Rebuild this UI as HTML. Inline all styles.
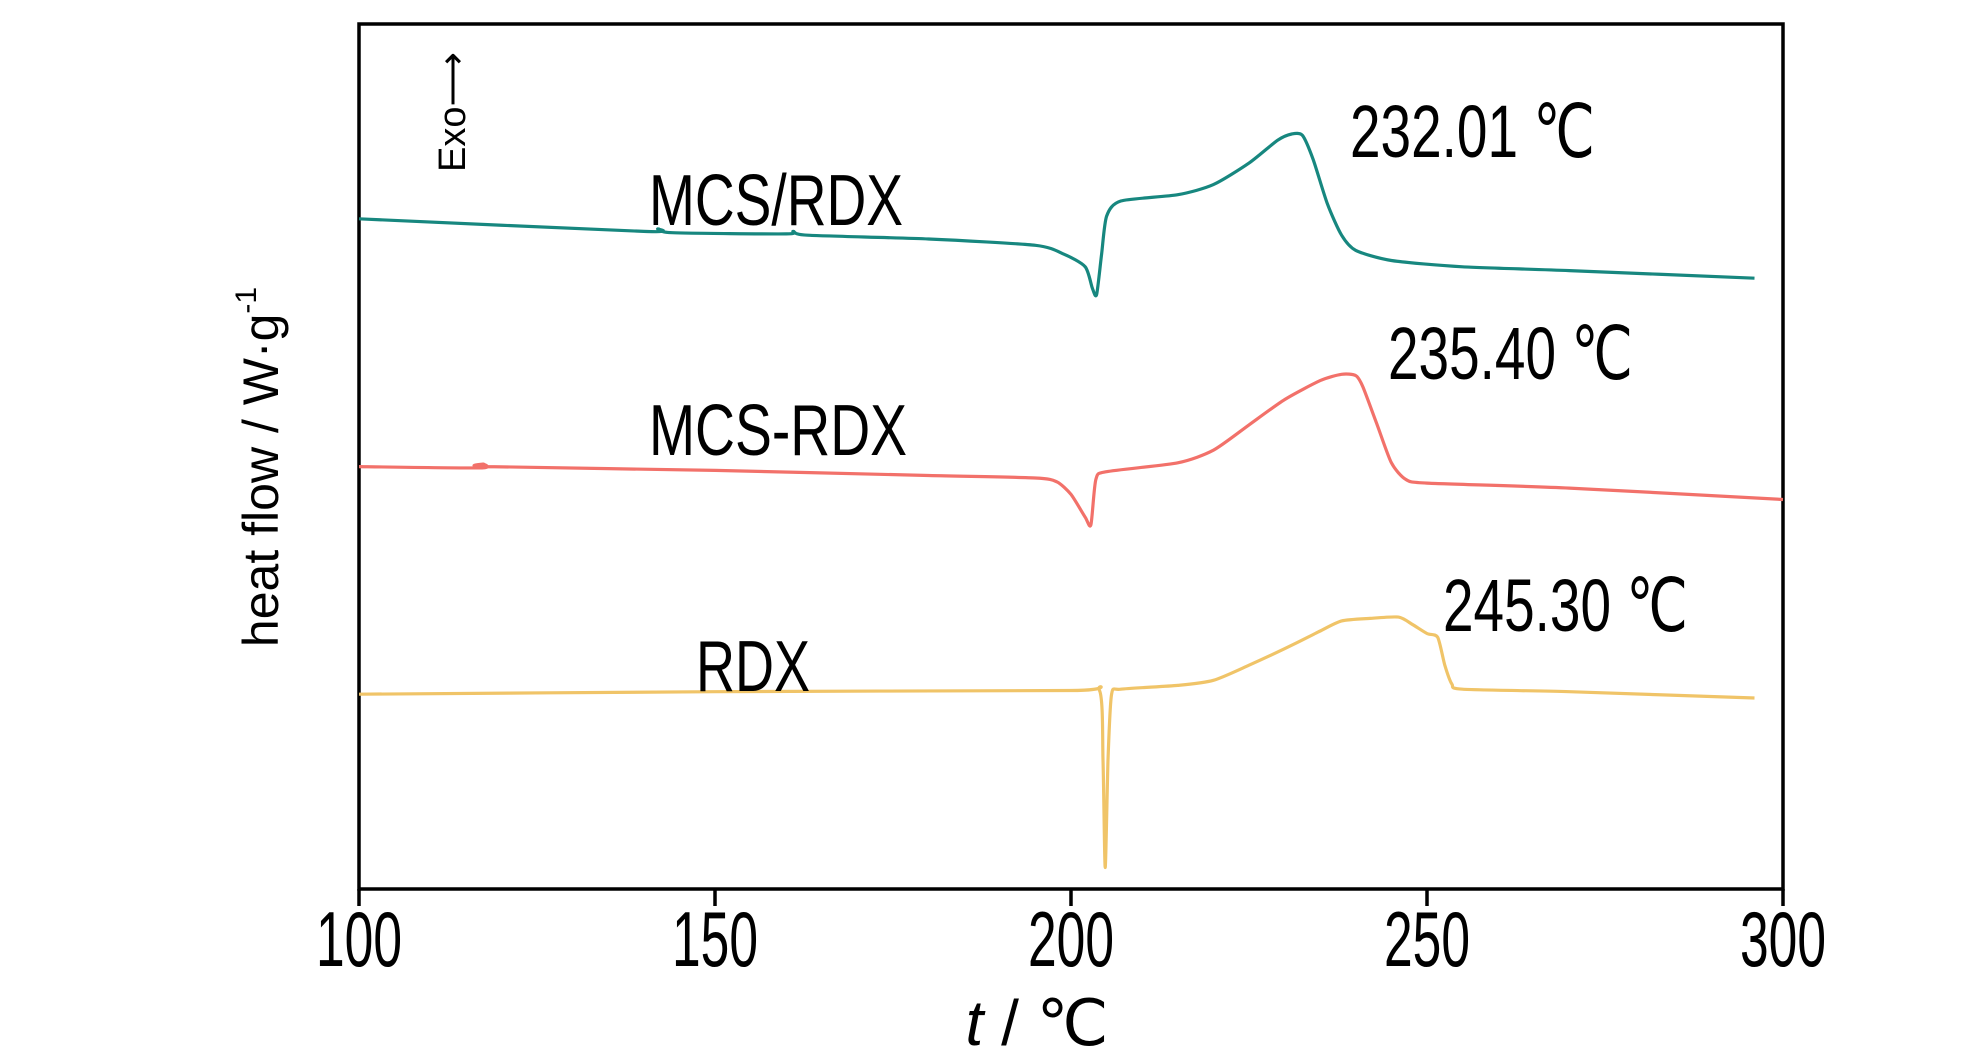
<!DOCTYPE html>
<html><head><meta charset="utf-8"><style>html,body{margin:0;padding:0;background:#fff}svg{display:block}text{font-family:"Liberation Sans",sans-serif;fill:#000}</style></head>
<body>
<svg id="chart" width="1984" height="1063" viewBox="0 0 1984 1063" xmlns="http://www.w3.org/2000/svg">
<rect x="359" y="24" width="1424" height="865" fill="none" stroke="#000" stroke-width="3.5"/>
<g id="ticks"></g>
<g id="series"></g>
<text x="1037" y="1045" font-size="64" text-anchor="middle"><tspan font-style="italic">t</tspan> /  ℃</text>
<text transform="translate(278,467) rotate(-90)" font-size="50" text-anchor="middle">heat flow / W·g<tspan font-size="30" dy="-22">-1</tspan></text>
<text transform="translate(465,172) rotate(-90)" font-size="38">Exo⟶</text>
<text x="649" y="225" font-size="72" textLength="254" lengthAdjust="spacingAndGlyphs">MCS/RDX</text>
<text x="649" y="455" font-size="72" textLength="258" lengthAdjust="spacingAndGlyphs">MCS-RDX</text>
<text x="696" y="691" font-size="72" textLength="114" lengthAdjust="spacingAndGlyphs">RDX</text>
<text x="1350" y="157" font-size="74" textLength="245" lengthAdjust="spacingAndGlyphs">232.01 ℃</text>
<text x="1388" y="379" font-size="74" textLength="245" lengthAdjust="spacingAndGlyphs">235.40 ℃</text>
<text x="1443" y="631" font-size="74" textLength="245" lengthAdjust="spacingAndGlyphs">245.30 ℃</text>
</svg>
<script>
const xTicks = [100, 150, 200, 250, 300];
const xTickLabels = ["100", "150", "200", "250", "300"];
const tempMcsSlash = [100,140,142,144,160,161,163,180,195,199,202,203,203.6,204.3,205,207,215,220,225,229,231,232.5,234,236,238,240,245,255,270,296];
const flowMcsSlash = [53,52,52.2,51.9,51.8,52,51.7,51.4,50.9,50.2,49.2,47.5,47,50.2,53.2,54.4,54.9,55.7,57.4,59.2,59.7,59.6,57.7,54.2,51.7,50.5,49.7,49.2,48.9,48.3];
const tempMcsDash = [100,117,117.5,118,150,180,195,198,200,202,202.8,203.5,205,215,220,225,230,235,238,240,241,243,245,247,250,270,300];
const flowMcsDash = [33.4,33.3,33.6,33.4,33.1,32.7,32.5,32.2,31.2,29.4,28.8,32.4,33,33.7,34.7,36.7,38.7,40.2,40.7,40.6,39.7,36.7,33.7,32.4,32.1,31.7,30.8];
const tempRdx = [100,150,200,204,204.5,204.8,205.2,205.7,207,215,220,225,230,234.3,235,238,242,246,248,250,251.5,252.5,253.5,255,270,296];
const flowRdx = [15.4,15.6,15.7,15.7,10.2,1.7,10.2,15.4,15.8,16.1,16.5,17.7,19,20.2,20.4,21.2,21.4,21.5,20.9,20.2,19.9,17.7,16.2,15.8,15.6,15.1];

const X0 = 359, X1 = 1783, Y0 = 889, Y1 = 24;
function xScale(t){ return X0 + (t - 100) / 200 * (X1 - X0); }
function yScale(v){ return Y0 - v / 68.4 * (Y0 - Y1); }
const NS = "http://www.w3.org/2000/svg";
const tg = document.getElementById('ticks');
xTicks.forEach((t, i) => {
  const x = xScale(t);
  const l = document.createElementNS(NS, 'line');
  
  
  l.setAttribute('x1', x); l.setAttribute('x2', x);
  l.setAttribute('y1', Y0); l.setAttribute('y2', Y0 + 17);
  l.setAttribute('stroke', '#000'); l.setAttribute('stroke-width', '3.5');
  tg.appendChild(l);
  const tx = document.createElementNS(NS, 'text');
  
  
  tx.setAttribute('x', x); tx.setAttribute('y', 966);
  tx.setAttribute('font-size', '78');
  tx.setAttribute('text-anchor', 'middle');
  tx.setAttribute('textLength', '86');
  tx.setAttribute('lengthAdjust', 'spacingAndGlyphs');
  tx.textContent = xTickLabels[i];
  tg.appendChild(tx);
});
const sg = document.getElementById('series');
function smoothPath(pts){
  let d = 'M' + pts[0][0].toFixed(1) + ',' + pts[0][1].toFixed(1);
  const k = 0.12;
  for (let i = 0; i < pts.length - 1; i++) {
    const p0 = pts[Math.max(0, i - 1)], p1 = pts[i], p2 = pts[i + 1], p3 = pts[Math.min(pts.length - 1, i + 2)];
    const c1x = p1[0] + (p2[0] - p0[0]) * k, c1y = p1[1] + (p2[1] - p0[1]) * k;
    const c2x = p2[0] - (p3[0] - p1[0]) * k, c2y = p2[1] - (p3[1] - p1[1]) * k;
    d += ' C' + c1x.toFixed(1) + ',' + c1y.toFixed(1) + ' ' + c2x.toFixed(1) + ',' + c2y.toFixed(1) + ' ' + p2[0].toFixed(1) + ',' + p2[1].toFixed(1);
  }
  return d;
}
function drawLine(temps, flows, color, name){
  const pts = temps.map((t, i) => [xScale(t), yScale(flows[i])]);
  const p = document.createElementNS(NS, 'path');
  
  
  p.setAttribute('d', smoothPath(pts));
  p.setAttribute('fill', 'none');
  p.setAttribute('stroke', color);
  p.setAttribute('stroke-width', '3.2');
  p.setAttribute('stroke-linejoin', 'round');
  sg.appendChild(p);
}
drawLine(tempMcsSlash, flowMcsSlash, '#17877f', 'series-mcs-slash-rdx');
drawLine(tempMcsDash, flowMcsDash, '#f2716a', 'series-mcs-dash-rdx');
drawLine(tempRdx, flowRdx, '#f0c468', 'series-rdx');
</script>
</body></html>
